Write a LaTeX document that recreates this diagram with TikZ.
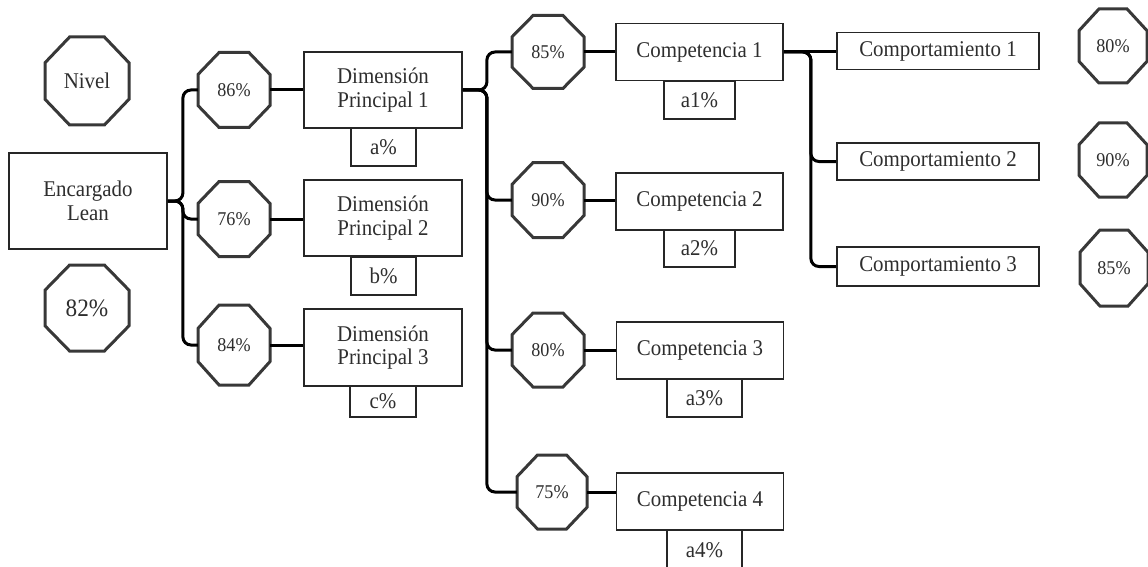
\documentclass[tikz,border=0pt]{standalone}
\usepackage{fontspec}
\setmainfont{Liberation Serif}[FakeStretch=0.93]
% octagon: name, x, y, width, height, text
\newcommand\octnode[6]{%
  \node[octtext, minimum width=#4, minimum height=#5] (#1) at (#2,#3) {#6};
  \pgfmathsetmacro\octHA{#4/2}\pgfmathsetmacro\octHB{#5/2}%
  \pgfmathsetmacro\octKA{0.4142*#4/2}\pgfmathsetmacro\octKB{0.4142*#5/2}%
  \draw[octline, shift={(#1.center)}]
    (-\octKA,-\octHB) -- (\octKA,-\octHB) -- (\octHA,-\octKB) -- (\octHA,\octKB)
    -- (\octKA,\octHB) -- (-\octKA,\octHB) -- (-\octHA,\octKB) -- (-\octHA,-\octKB) -- cycle;
}
\begin{document}
\begin{tikzpicture}[x=1pt,y=-1pt,
  box/.style={draw=black!85, line width=1.8pt, fill=white, inner sep=0pt, align=center,
              font=\fontsize{22.5}{23.5}\selectfont, text=black!82},
  octtext/.style={inner sep=0pt, font=\fontsize{19.5}{21}\selectfont, text=black!82},
  octline/.style={draw=black!78, line width=3pt, line join=miter},
  link/.style={draw=black, line width=3pt, rounded corners=8pt},
]
\useasboundingbox (0,0) rectangle (1148,567);

% root and legend
\node[box, minimum width=158, minimum height=96] (enc) at (88,201) {Encargado\\Lean};
\octnode{niv}{87}{81}{84}{88}{\fontsize{22.5}{23.5}\selectfont Nivel}
\octnode{tot}{87}{308}{84}{86}{\fontsize{25}{26}\selectfont 82\%}

% main dimensions
\octnode{o86}{234}{90}{72}{75}{86\%}
\octnode{o76}{234}{219}{72}{75}{76\%}
\octnode{o84}{234}{345}{72}{80}{84\%}
\node[box, minimum width=158, minimum height=76] (dp1) at (383,90) {Dimensión\\Principal 1};
\node[box, minimum width=158, minimum height=76] (dp2) at (383,218) {Dimensión\\Principal 2};
\node[box, minimum width=158, minimum height=77] (dp3) at (383,347.5) {Dimensión\\Principal 3};
\node[box, minimum width=65, minimum height=38] (pa) at (383.5,147) {a\%};
\node[box, minimum width=65, minimum height=38] (pb) at (383.5,276) {b\%};
\node[box, minimum width=66, minimum height=31] (pc) at (383,401.5) {c\%};

% competencies
\octnode{o85}{548}{52}{72}{73}{85\%}
\octnode{o90}{548}{200}{72}{75}{90\%}
\octnode{o80}{548}{350}{72}{74}{80\%}
\octnode{o75}{552}{492}{70}{74}{75\%}
\node[box, minimum width=167, minimum height=57] (c1) at (699.5,52) {Competencia 1};
\node[box, minimum width=167, minimum height=57] (c2) at (699.5,201.5) {Competencia 2};
\node[box, minimum width=167, minimum height=57] (c3) at (700,350.5) {Competencia 3};
\node[box, minimum width=167, minimum height=57] (c4) at (700,501.5) {Competencia 4};
\node[box, minimum width=71, minimum height=38] (a1) at (699.5,100) {a1\%};
\node[box, minimum width=71, minimum height=37] (a2) at (699.5,248.5) {a2\%};
\node[box, minimum width=75, minimum height=38] (a3) at (704.5,398) {a3\%};
\node[box, minimum width=75, minimum height=40] (a4) at (704.5,550) {a4\%};

% behaviours
\node[box, minimum width=202, minimum height=37] (b1) at (938,51) {Comportamiento 1};
\node[box, minimum width=202, minimum height=37] (b2) at (938,161.5) {Comportamiento 2};
\node[box, minimum width=202, minimum height=39] (b3) at (938,266.5) {Comportamiento 3};
\octnode{r80}{1113}{46}{68}{74}{80\%}
\octnode{r90}{1113}{160}{68}{74}{90\%}
\octnode{r85}{1114}{268}{68}{76}{85\%}

% tree connectors
\foreach \t in {o86,o76,o84} \draw[link] (enc.east) -- ++(15,0) |- (\t.west);
\foreach \t in {o85,o90,o80,o75} \draw[link] (dp1.east) -- ++(24,0) |- (\t.west);
\draw[link] (c1.east) -- (c1.east -| b1.west);
\foreach \t in {b2,b3} \draw[link] (c1.east) -- ++(27,0) |- (\t.west);

% score to box
\draw[link] (o86.east) -- (o86.east -| dp1.west);
\draw[link] (o76.east) -- (o76.east -| dp2.west);
\draw[link] (o84.east) -- (o84.east -| dp3.west);
\draw[link] (o85.east) -- (o85.east -| c1.west);
\draw[link] (o90.east) -- (o90.east -| c2.west);
\draw[link] (o80.east) -- (o80.east -| c3.west);
\draw[link] (o75.east) -- (o75.east -| c4.west);
\end{tikzpicture}
\end{document}
